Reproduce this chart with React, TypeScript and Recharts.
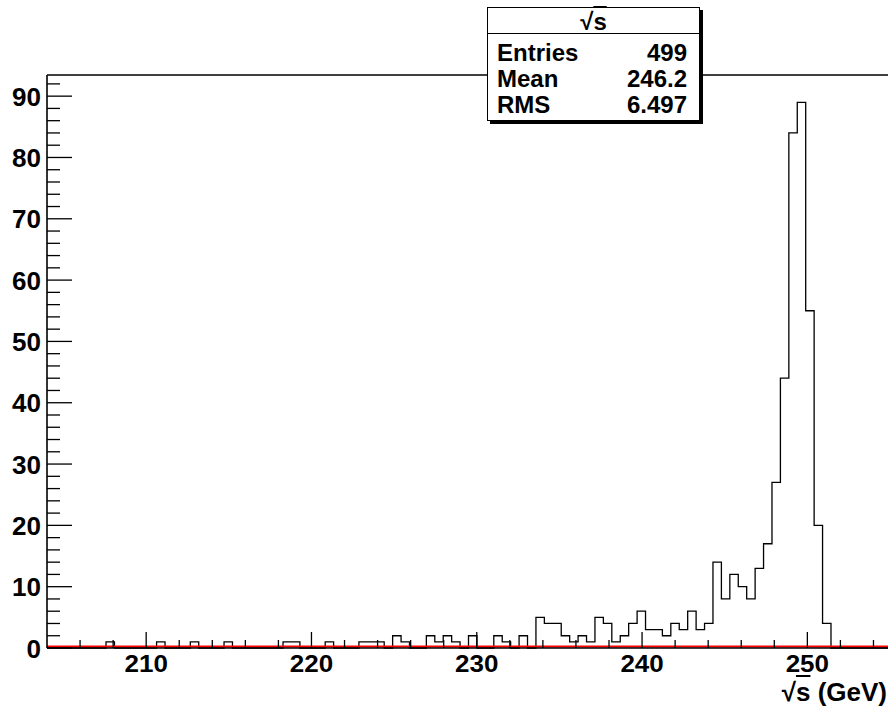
import { LineChart, Line, XAxis, YAxis, ReferenceLine } from "recharts";

// histogram: 100 bins from 204 to 255 GeV
const binLow = 204;
const binWidth = 0.51;
const counts = [
  0, 0, 0, 0, 0, 0, 0, 1, 0, 0,
  0, 0, 0, 1, 0, 0, 0, 1, 0, 0,
  0, 1, 0, 0, 0, 0, 0, 0, 1, 1,
  0, 0, 0, 1, 0, 0, 0, 1, 1, 1,
  0, 2, 1, 0, 0, 2, 1, 2, 1, 0,
  2, 0, 0, 2, 1, 0, 2, 0, 5, 4,
  4, 2, 1, 2, 1, 5, 4, 1, 2, 4,
  6, 3, 3, 2, 4, 3, 6, 3, 4, 14,
  8, 12, 10, 8, 13, 17, 27, 44, 84, 89,
  55, 20, 4, 0, 0, 0, 0, 0, 0, 0,
];

const xTicks = [
  206, 208, 210, 212, 214, 216, 218, 220, 222, 224, 226, 228, 230,
  232, 234, 236, 238, 240, 242, 244, 246, 248, 250, 252, 254,
];
const yTicks = [
  0, 2, 4, 6, 8, 10, 12, 14, 16, 18, 20, 22, 24, 26, 28, 30, 32, 34, 36,
  38, 40, 42, 44, 46, 48, 50, 52, 54, 56, 58, 60, 62, 64, 66, 68, 70, 72,
  74, 76, 78, 80, 82, 84, 86, 88, 90, 92,
];

const statsLabels = ["Entries", "Mean", "RMS"];
const statsValues = ["499", "246.2", "6.497"];

const xMax = 255;
const yMax = 93.45;

const FONT = '"Liberation Sans", Arial, Helvetica, sans-serif';

const histData = [
  ...counts.map((c, i) => ({ x: binLow + binWidth * i, c })),
  { x: binLow + binWidth * counts.length, c: 0 },
];

function XTick(props: any) {
  const { x, y, payload } = props;
  const v = payload.value;
  const major = v % 10 === 0;
  return (
    <g>
      <line x1={x} x2={x} y1={y} y2={y - (major ? 16 : 8)} stroke="#000" strokeWidth={1.3} />
      {major && (
        <text
          transform={`translate(${x},672) scale(1,0.9)`}
          textAnchor="middle"
          fontFamily={FONT}
          fontWeight="bold"
          fontSize={26}
          fill="#000"
        >
          {v}
        </text>
      )}
    </g>
  );
}

function YTick(props: any) {
  const { x, y, payload } = props;
  const v = payload.value;
  const major = v % 10 === 0;
  return (
    <g>
      <line x1={x} x2={x + (major ? 25 : 13)} y1={y} y2={y} stroke="#000" strokeWidth={1.3} />
      {major && (
        <text
          x={x - 6}
          y={y + 9.5}
          textAnchor="end"
          fontFamily={FONT}
          fontWeight="bold"
          fontSize={26}
          fill="#000"
        >
          {v}
        </text>
      )}
    </g>
  );
}

export default function App() {
  return (
    <div
      style={{
        position: "absolute",
        left: 0,
        top: 0,
        width: 888,
        height: 708,
        overflow: "hidden",
        background: "#fff",
      }}
    >
      <LineChart
        width={892}
        height={708}
        data={histData}
        margin={{ top: 75, right: 2, bottom: 0, left: 0 }}
      >
        <XAxis
          dataKey="x"
          type="number"
          domain={[binLow, xMax]}
          ticks={xTicks}
          tick={<XTick />}
          tickLine={false}
          tickSize={0}
          tickMargin={0}
          height={60}
          axisLine={{ stroke: "#000", strokeWidth: 1.5 }}
          interval={0}
        />
        <YAxis
          type="number"
          domain={[0, yMax]}
          ticks={yTicks}
          tick={<YTick />}
          tickLine={false}
          tickSize={0}
          tickMargin={0}
          width={47}
          axisLine={{ stroke: "#000", strokeWidth: 1.6 }}
          interval={0}
        />
        <ReferenceLine y={yMax} stroke="#000" strokeWidth={1.3} />
        <Line
          type="stepAfter"
          dataKey="c"
          stroke="#000"
          strokeWidth={1.3}
          dot={false}
          isAnimationActive={false}
        />
        <ReferenceLine
          y={0}
          shape={(p: any) => (
            <line x1={p.x1} x2={p.x2} y1={p.y1 - 1.5} y2={p.y2 - 1.5} stroke="#ff0000" strokeWidth={2} />
          )}
        />
      </LineChart>

      {/* axis title */}
      <div
        style={{
          position: "absolute",
          right: 1,
          top: 684.5,
          fontFamily: FONT,
          fontWeight: "bold",
          fontSize: 26,
          lineHeight: "14px",
          whiteSpace: "nowrap",
          color: "#000",
        }}
      >
        √<span style={{ textDecoration: "overline" }}>s</span> (GeV)
      </div>

      {/* stats box */}
      <div
        style={{
          position: "absolute",
          left: 487,
          top: 7,
          width: 213,
          height: 114,
          boxSizing: "border-box",
          border: "1.5px solid #000",
          boxShadow: "3px 3px 0 #000",
          background: "#fff",
          fontFamily: FONT,
          fontWeight: "bold",
          color: "#000",
        }}
      >
        <div
          style={{
            position: "absolute",
            left: 0,
            right: 0,
            top: 0,
            height: 25,
            borderBottom: "1.5px solid #000",
            textAlign: "center",
            fontSize: 24,
            lineHeight: "27px",
          }}
        >
          √<span style={{ textDecoration: "overline" }}>s</span>
        </div>
        {statsLabels.map((lab, i) => (
          <div
            key={lab}
            style={{
              position: "absolute",
              left: 9,
              right: 12,
              top: 31.5 + i * 26,
              height: 26,
              lineHeight: "26px",
              fontSize: 24,
              display: "flex",
              justifyContent: "space-between",
            }}
          >
            <span>{lab}</span>
            <span>{statsValues[i]}</span>
          </div>
        ))}
      </div>
    </div>
  );
}
